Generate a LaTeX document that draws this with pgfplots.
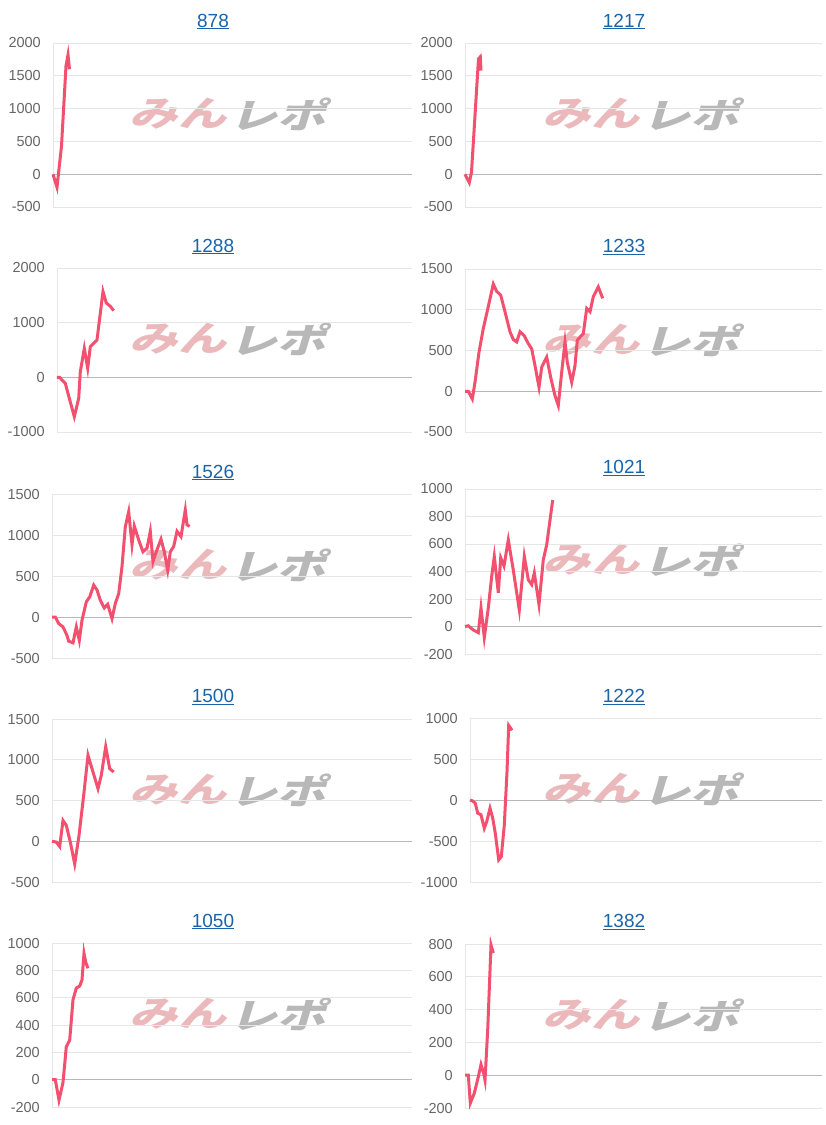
\documentclass[border=0pt]{standalone}
\usepackage{pgfplots}
\pgfplotsset{compat=1.18}
\usepackage{fontspec}
\setmainfont{Liberation Sans}
\newfontfamily\cjk{Noto Sans CJK JP}
\definecolor{linered}{HTML}{F2506E}
\definecolor{gridc}{HTML}{E6E6E6}
\definecolor{zeroc}{HTML}{B8B8B8}
\definecolor{tickc}{HTML}{666666}
\definecolor{titlec}{HTML}{1A64A8}
\definecolor{wmpink}{HTML}{EBB9BB}
\definecolor{wmgray}{HTML}{B8B8B8}
\pgfplotsset{panel/.style={scale only axis, anchor=south west, xmin=0,
  axis x line=none, axis y line*=left,
  y axis line style={draw=gridc, line width=0.8pt},
  xtick=\empty, major tick length=0pt,
  ymajorgrids, grid style={draw=gridc, line width=0.8pt},
  yticklabel style={font=\fontsize{14.5}{14.5}\selectfont, text=tickc, inner sep=0pt, xshift=-12pt},
  /pgf/number format/assume math mode=true, /pgf/number format/1000 sep={},
  clip=false,
  extra y ticks={0}, extra y tick labels={},
  extra y tick style={grid=major, major grid style={draw=zeroc, line width=0.9pt}},
  every axis plot post/.append style={draw=linered, line width=3pt, line join=miter, mark=none}}}
\newcommand{\wm}[2]{%
  \begin{scope}[shift={(#1pt,-#2pt)}, xslant=0.3, xscale=1.38, transform shape]
    \node[font=\cjk\bfseries\fontsize{35}{35}\selectfont, text=wmpink, anchor=east, inner sep=0pt] at (-1pt,0) {みん};
    \node[font=\cjk\bfseries\fontsize{35}{35}\selectfont, text=wmgray, anchor=west, inner sep=0pt] at (1pt,0) {レポ};
  \end{scope}}
\newcommand{\ttl}[3]{\node[font=\fontsize{19}{19}\selectfont, text=titlec] at (#1pt,-#2pt) {\underline{#3}};}
\begin{document}
\begin{tikzpicture}
\path[use as bounding box] (0,0) rectangle (826pt,-1125pt);
\wm{232}{114}\wm{645}{114}
\wm{232}{339}\wm{645}{340}
\wm{232}{565}\wm{645}{560}
\wm{232}{790}\wm{645}{789}
\wm{232}{1014}\wm{645}{1015}
\ttl{213}{21.5}{878}\ttl{624}{21.5}{1217}
\ttl{213}{246.5}{1288}\ttl{624}{247}{1233}
\ttl{213}{472.5}{1526}\ttl{624}{468}{1021}
\ttl{213}{697}{1500}\ttl{624}{697}{1222}
\ttl{213}{921.5}{1050}\ttl{624}{922}{1382}
% P1 878
\begin{axis}[panel, at={(53pt,-207pt)}, width=359pt, height=164pt, xmax=359, ymin=-500, ymax=2000, ytick={-500,0,500,1000,1500,2000}]
\addplot coordinates {(0,0)(4,-200)(8.5,430)(13,1650)(15,1820)(16.5,1600)};
\end{axis}
% P2 1217
\begin{axis}[panel, at={(465pt,-207pt)}, width=357pt, height=164pt, xmax=357, ymin=-500, ymax=2000, ytick={-500,0,500,1000,1500,2000}]
\addplot coordinates {(0,0)(4.3,-130)(6.5,30)(13.5,1760)(15.3,1790)(16,1580)};
\end{axis}
% P3 1288
\begin{axis}[panel, at={(57pt,-432pt)}, width=355pt, height=164pt, xmax=355, ymin=-1000, ymax=2000, ytick={-1000,0,1000,2000}]
\addplot coordinates {(0,0)(2.7,0)(5,-50)(8.3,-110)(13.3,-450)(17.3,-720)(21.7,-385)(23.3,100)(27.3,530)(30.7,165)(33.3,560)(40,685)(46,1570)(49.3,1360)(53.3,1300)(56.7,1220)};
\end{axis}
% P4 1233
\begin{axis}[panel, at={(465pt,-432pt)}, width=357pt, height=163pt, xmax=357, ymin=-500, ymax=1500, ytick={-500,0,500,1000,1500}]
\addplot coordinates {(0,0)(3.3,0)(7.3,-95)(10,110)(14,480)(18.3,770)(23.3,1040)(28.3,1315)(31.7,1225)(35.7,1180)(40,975)(45,730)(48.3,635)(51.7,605)(55,730)(59,685)(63.3,585)(66.7,520)(70,315)(74,50)(76.7,295)(81.7,420)(85.7,170)(90,-55)(93.3,-175)(96.7,235)(100,605)(102.3,355)(106.7,110)(110,315)(112.3,625)(115,665)(118.3,705)(121.7,1015)(125,975)(128.3,1160)(133.3,1280)(137.7,1140)};
\end{axis}
% P5 1526
\begin{axis}[panel, at={(52pt,-658pt)}, width=360pt, height=164pt, xmax=360, ymin=-500, ymax=1500, ytick={-500,0,500,1000,1500}]
\addplot coordinates {(0,0)(3.3,0)(6.7,-80)(11,-120)(15,-225)(16.7,-295)(21,-315)(24.3,-120)(27.3,-285)(30,-40)(34.3,185)(37.7,245)(41.7,390)(45,330)(48.3,205)(52.3,110)(55.7,155)(60,-20)(63.3,165)(66.7,285)(70,615)(73.3,1100)(76.7,1285)(80,880)(82.3,1110)(86.7,940)(91,795)(95,840)(98.3,1045)(101,675)(105,820)(109,950)(112.3,795)(115.7,570)(118.3,795)(121.7,860)(125,1045)(129,980)(133.3,1305)(135,1125)(137.7,1105)};
\end{axis}
% P6 1021
\begin{axis}[panel, at={(465pt,-654pt)}, width=357pt, height=165pt, xmax=357, ymin=-200, ymax=1000, ytick={-200,0,200,400,600,800,1000}]
\addplot coordinates {(0,0)(3.3,5)(8.3,-25)(13.3,-45)(16,135)(19.3,-80)(23.3,135)(26.7,365)(29.3,510)(33.3,245)(35.7,500)(39,440)(43.3,630)(48.3,410)(54.3,120)(59.3,510)(63.3,340)(66.7,305)(69.3,390)(74,160)(78.3,485)(81.7,595)(87.7,920)};
\end{axis}
% P7 1500
\begin{axis}[panel, at={(52pt,-882pt)}, width=360pt, height=163pt, xmax=360, ymin=-500, ymax=1500, ytick={-500,0,500,1000,1500}]
\addplot coordinates {(0,0)(4.3,-10)(7.7,-65)(11,255)(14.3,195)(18.3,-10)(22.7,-280)(27,70)(31.7,565)(36,1055)(41,850)(46,645)(49.3,810)(53.7,1160)(57.7,890)(61.7,850)};
\end{axis}
% P8 1222
\begin{axis}[panel, at={(470pt,-882pt)}, width=352pt, height=164pt, xmax=352, ymin=-1000, ymax=1000, ytick={-1000,-500,0,500,1000}]
\addplot coordinates {(0,0)(2.7,-12)(5.3,-40)(7.7,-160)(11,-180)(14.3,-345)(16.7,-265)(20,-100)(22.7,-220)(25.3,-405)(28.7,-730)(31.3,-690)(34.3,-305)(37,345)(38.7,910)(42,850)};
\end{axis}
% P9 1050
\begin{axis}[panel, at={(52pt,-1107pt)}, width=360pt, height=164pt, xmax=360, ymin=-200, ymax=1000, ytick={-200,0,200,400,600,800,1000}]
\addplot coordinates {(0,0)(3.3,0)(7,-150)(11,-20)(14.3,240)(17.7,290)(21,585)(24.3,670)(27.7,685)(30,730)(32,925)(33.7,860)(36,815)};
\end{axis}
% P10 1382
\begin{axis}[panel, at={(465pt,-1108pt)}, width=357pt, height=164pt, xmax=357, ymin=-200, ymax=800, ytick={-200,0,200,400,600,800}]
\addplot coordinates {(0,0)(3.3,0)(5.3,-170)(9.3,-110)(13.3,-10)(16,65)(18.7,10)(20,-30)(22.7,275)(26,795)(28.3,745)};
\end{axis}
\end{tikzpicture}
\end{document}
